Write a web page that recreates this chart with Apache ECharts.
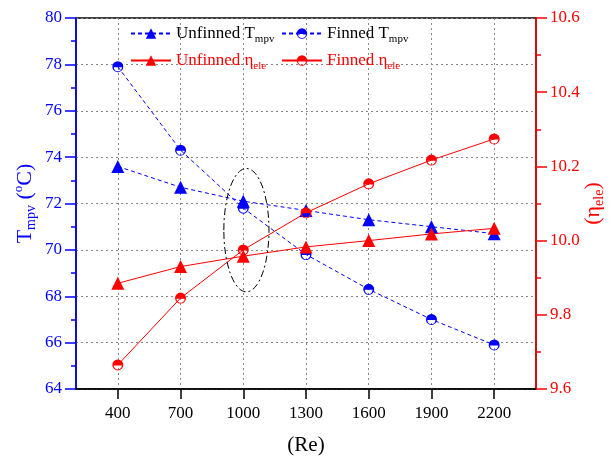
<!DOCTYPE html>
<html><head><meta charset="utf-8">
<script src="https://cdn.jsdelivr.net/npm/echarts@6/dist/echarts.min.js"></script>
<style>html,body{margin:0;padding:0;background:#fff}#c{width:611px;height:456px}</style>
</head><body><div id="c"></div>
<script>
const re = [400, 700, 1000, 1300, 1600, 1900, 2200];
const unfinnedT = [73.6, 72.7, 72.1, 71.7, 71.3, 71.0, 70.7];
const finnedT = [77.9, 74.3, 71.8, 69.8, 68.3, 67.0, 65.9];
const unfinnedEta = [9.885, 9.93, 9.958, 9.983, 10.0, 10.018, 10.033];
const finnedEta = [9.665, 9.845, 9.975, 10.075, 10.153, 10.217, 10.274];
const xTicks = [400, 700, 1000, 1300, 1600, 1900, 2200];
const ellipseAnno = [[1015, 70.85, 108, 2.66]];

const FONT = 'Liberation Serif';
const BLUE = '#0000ff', RED = '#ff0000';
const HALF = 'path://M0,-10A10,10,0,1,1,0,10A10,10,0,1,1,0,-10Z M-7.5,1A7.5,7.5,0,0,0,7.5,1Z';
const pair = (xs, ys) => xs.map((x, i) => [x, ys[i]]);

const subRich = (color) => ({
  t: {fontFamily: FONT, fontSize: 17, color: color, lineHeight: 22, verticalAlign: 'middle'},
  s: {fontFamily: FONT, fontSize: 11, color: color, lineHeight: 11, verticalAlign: 'bottom'}
});

function legendAt(name, left, top, color) {
  return {
    data: [name], left: left, top: top, itemWidth: 40, itemHeight: 13, itemGap: 0,
    textStyle: {fontFamily: FONT, fontSize: 17, color: color, rich: subRich(color)},
    formatter: function (n) {
      const m = {
        'Unfinned T': '{t|Unfinned T}{s|mpv}', 'Finned T': '{t|Finned T}{s|mpv}',
        'Unfinned eta': '{t|Unfinned η}{s|ele}', 'Finned eta': '{t|Finned η}{s|ele}'
      };
      return m[n];
    }
  };
}

const chart = echarts.init(document.getElementById('c'));
chart.setOption({
  animation: false,
  backgroundColor: '#fff',
  grid: {left: 76, right: 75, top: 18, bottom: 67, show: true, borderColor: '#000', borderWidth: 1.5,
         containLabel: false, outerBoundsMode: 'none'},
  legend: [
    legendAt('Unfinned T', 125, 20, '#000'),
    legendAt('Finned T', 276, 20, '#000'),
    legendAt('Unfinned eta', 125, 47, RED),
    legendAt('Finned eta', 276, 47, RED)
  ],
  xAxis: {
    type: 'value', min: 200, max: 2400,
    name: '(Re)', nameLocation: 'middle', nameGap: 46, nameMoveOverlap: false,
    nameTextStyle: {fontFamily: FONT, fontSize: 21, color: '#000'},
    axisLine: {lineStyle: {color: '#000', width: 1.5}},
    axisTick: {customValues: xTicks, length: 10, lineStyle: {color: '#000', width: 1.5}},
    axisLabel: {customValues: xTicks, margin: 16, fontFamily: FONT, fontSize: 17, color: '#000',
                formatter: v => String(v)},
    splitLine: {show: true, lineStyle: {color: '#888', type: [2, 3], width: 1}}
  },
  yAxis: [{
    type: 'value', min: 64, max: 80, interval: 2, position: 'left',
    name: '{t|T}{s|mpv}{t| (}{o|o}{t|C)}', nameLocation: 'middle', nameGap: 38, nameRotate: 90,
    nameMoveOverlap: false,
    nameTextStyle: {rich: {
      t: {fontFamily: FONT, fontSize: 22, color: BLUE, lineHeight: 26, verticalAlign: 'middle'},
      s: {fontFamily: FONT, fontSize: 14, color: BLUE, lineHeight: 12, verticalAlign: 'bottom'},
      o: {fontFamily: FONT, fontSize: 13, color: BLUE, lineHeight: 14, verticalAlign: 'top'}
    }},
    axisLine: {show: true, lineStyle: {color: BLUE, width: 1.5}},
    axisTick: {show: true, length: 11, lineStyle: {color: BLUE, width: 1.5}},
    minorTick: {show: true, splitNumber: 2, length: 5, lineStyle: {color: BLUE, width: 1.5}},
    axisLabel: {margin: 14, fontFamily: FONT, fontSize: 17, color: BLUE},
    splitLine: {show: true, lineStyle: {color: '#888', type: [2, 3], width: 1}}
  }, {
    type: 'value', min: 9.6, max: 10.6, interval: 0.2, position: 'right',
    name: '{t|(η}{s|ele}{t|)}', nameLocation: 'middle', nameGap: 44, nameRotate: 90,
    nameMoveOverlap: false,
    nameTextStyle: {rich: {
      t: {fontFamily: FONT, fontSize: 22, color: RED, lineHeight: 26, verticalAlign: 'middle'},
      s: {fontFamily: FONT, fontSize: 14, color: RED, lineHeight: 12, verticalAlign: 'bottom'}
    }},
    axisLine: {show: true, lineStyle: {color: RED, width: 1.5}},
    axisTick: {show: true, length: 11, lineStyle: {color: RED, width: 1.5}},
    minorTick: {show: true, splitNumber: 2, length: 5, lineStyle: {color: RED, width: 1.5}},
    axisLabel: {margin: 14, fontFamily: FONT, fontSize: 17, color: RED, formatter: v => v.toFixed(1)},
    splitLine: {show: false}
  }],
  series: [
    {name: 'Unfinned T', type: 'line', yAxisIndex: 0, data: pair(re, unfinnedT),
     symbol: 'triangle', symbolSize: 13, color: BLUE,
     lineStyle: {color: BLUE, width: 1, type: [4, 3]}, itemStyle: {color: BLUE}},
    {name: 'Finned T', type: 'line', yAxisIndex: 0, data: pair(re, finnedT),
     symbol: HALF, symbolSize: 11, color: BLUE,
     lineStyle: {color: BLUE, width: 1, type: [4, 3]}, itemStyle: {color: BLUE}},
    {name: 'Unfinned eta', type: 'line', yAxisIndex: 1, data: pair(re, unfinnedEta),
     symbol: 'triangle', symbolSize: 13, color: RED,
     lineStyle: {color: RED, width: 1}, itemStyle: {color: RED}},
    {name: 'Finned eta', type: 'line', yAxisIndex: 1, data: pair(re, finnedEta),
     symbol: HALF, symbolSize: 11, color: RED,
     lineStyle: {color: RED, width: 1}, itemStyle: {color: RED}},
    {name: 'ellipse', type: 'custom', yAxisIndex: 0, data: ellipseAnno, silent: true, z: 5,
     renderItem: function (params, api) {
       const c = api.coord([api.value(0), api.value(1)]);
       const s = api.size([api.value(2), api.value(3)]);
       return {type: 'ellipse', shape: {cx: c[0], cy: c[1], rx: s[0], ry: s[1]},
         style: {fill: 'none', stroke: '#000', lineWidth: 1, lineDash: [7, 3, 2, 3]}};
     }}
  ]
});
</script></body></html>
